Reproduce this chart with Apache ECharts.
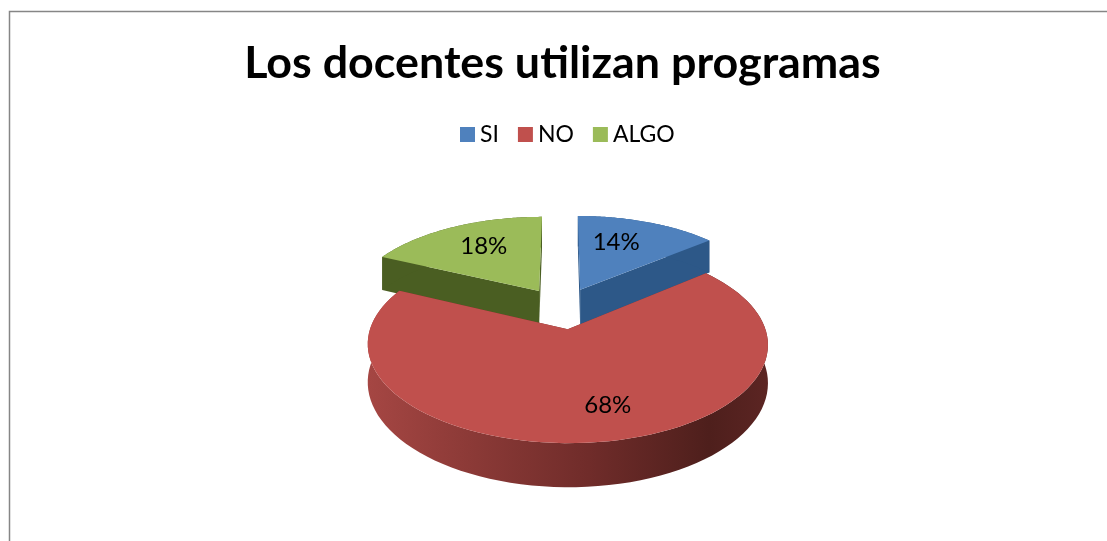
<!DOCTYPE html>
<html>
<head>
<meta charset="utf-8">
<title>Los docentes utilizan programas</title>
<script src="https://cdn.jsdelivr.net/npm/echarts@6/dist/echarts.min.js"></script>
<style>
    html, body { margin: 0; padding: 0; background: #fff; }
    #mainChart { width: 1107px; height: 541px; }
</style>
</head>
<body>
<div id="mainChart"></div>
<script>
var categories = ['SI', 'NO', 'ALGO'];
var percents = [14, 68, 18];
var topColors = ['#4f81bd', '#c0504d', '#9bbb59'];
var wallColors = ['#2d5888', '#7a2f2d', '#4a5e22'];

// 透视饼图的参数
var fontName = 'Lato, "Noto Sans", sans-serif';
var centerX = 562, centerY = 308;
var scaleX = 191, scaleY = 89.9;
var perspective = 0.149;
var explode = 0.23;
var depth = 36;
var labelRadius = 0.7;
var labelNudge = [-13, 20, 7];

var total = percents.reduce(function(a, b) { return a + b; }, 0);

// 圆盘坐标投影到屏幕, bottom 为 true 时取底面
function project(u, v, bottom) {
    var s = 1 / (1 + perspective * v);
    return [
        centerX + scaleX * u * s,
        centerY - scaleY * v * s + (bottom ? depth * s : 0)
    ];
}

function sliceAngles(index) {
    var before = 0;
    for (var i = 0; i < index; i++) {
        before += percents[i];
    }
    return [before / total * Math.PI * 2, (before + percents[index]) / total * Math.PI * 2];
}

function renderSlice(params, api) {
    var i = params.seriesIndex;
    var angles = sliceAngles(i);
    var mid = (angles[0] + angles[1]) / 2;
    var apexU = explode * Math.sin(mid);
    var apexV = explode * Math.cos(mid);
    var steps = 90;
    var rimTop = [], rimBottom = [];
    for (var n = 0; n <= steps; n++) {
        var a = angles[0] + (angles[1] - angles[0]) * n / steps;
        rimTop.push(project(apexU + Math.sin(a), apexV + Math.cos(a), false));
        rimBottom.push(project(apexU + Math.sin(a), apexV + Math.cos(a), true));
    }
    var apexTop = project(apexU, apexV, false);
    var apexBottom = project(apexU, apexV, true);

    var rimFill = wallColors[i];
    if (categories[i] === 'NO') {
        rimFill = new echarts.graphic.LinearGradient(368, 0, 769, 0, [
            {offset: 0, color: '#a54643'},
            {offset: 0.25, color: '#8c3a37'},
            {offset: 0.55, color: '#702c2a'},
            {offset: 0.85, color: '#4e1f1c'},
            {offset: 1, color: '#5c2523'}
        ], true);
    }

    var labelU = apexU + labelRadius * Math.sin(mid);
    var labelV = apexV + labelRadius * Math.cos(mid);
    var labelPos = project(labelU, labelV, false);

    return {
        type: 'group',
        children: [
            {type: 'polygon', shape: {points: [apexTop, rimTop[0], rimBottom[0], apexBottom]}, style: {fill: wallColors[i]}},
            {type: 'polygon', shape: {points: [apexTop, rimTop[steps], rimBottom[steps], apexBottom]}, style: {fill: wallColors[i]}},
            {type: 'polygon', shape: {points: rimTop.concat(rimBottom.slice().reverse())}, style: {fill: rimFill}},
            {type: 'polygon', shape: {points: [apexTop].concat(rimTop)}, style: {fill: topColors[i]}},
            {
                type: 'text',
                z2: 10,
                style: {
                    text: api.value(0) + '%',
                    x: labelPos[0] + labelNudge[i],
                    y: labelPos[1] + 1,
                    align: 'center',
                    verticalAlign: 'middle',
                    fill: '#000',
                    font: '24px ' + fontName
                }
            }
        ]
    };
}

var myChart = echarts.init(document.getElementById('mainChart'), null, {renderer: 'canvas'});

myChart.setOption({
    animation: false,
    backgroundColor: '#fff',
    title: {
        text: 'Los docentes utilizan programas',
        left: 557.5,
        top: 36,
        textAlign: 'center',
        textStyle: {fontFamily: fontName, fontWeight: 'bold', fontSize: 44.8, color: '#000'}
    },
    legend: {
        data: categories,
        left: 455,
        top: 118,
        icon: 'rect',
        itemWidth: 15,
        itemHeight: 15,
        itemGap: 19,
        selectedMode: false,
        textStyle: {fontFamily: fontName, fontSize: 23, color: '#000'}
    },
    graphic: [{
        type: 'rect',
        silent: true,
        shape: {x: 9.5, y: 11.5, width: 1110, height: 540},
        style: {fill: 'none', stroke: '#868686', lineWidth: 1.5}
    }],
    series: categories.map(function(name, i) {
        return {
            type: 'custom',
            name: name,
            coordinateSystem: 'none',
            silent: true,
            z: name === 'NO' ? 4 : 3,
            itemStyle: {color: topColors[i]},
            renderItem: renderSlice,
            data: [percents[i]]
        };
    })
});
</script>
</body>
</html>
